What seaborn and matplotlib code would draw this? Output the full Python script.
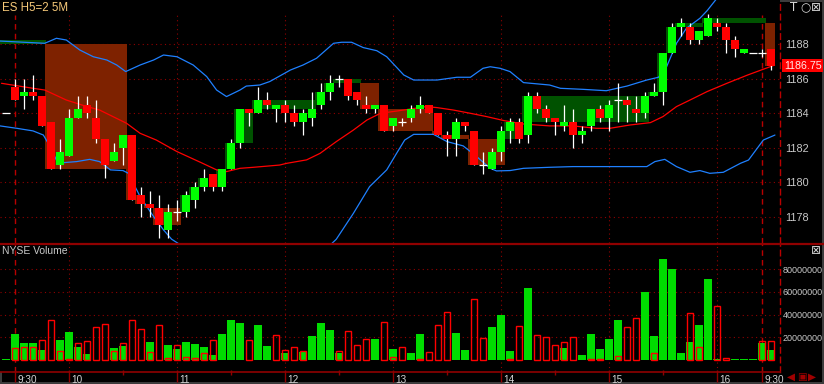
import numpy as np
import seaborn as sns
import matplotlib.pyplot as plt
from matplotlib.lines import Line2D
from matplotlib.patches import Rectangle
from matplotlib.transforms import ScaledTranslation, blended_transform_factory

# ---- 5 minute bars, index 0 = 9:30 ----
bar_idx = list(range(-1, 85))
opens = [1184.0,
         1185.5, 1185.0, 1185.25, 1185.0, 1183.5, 1181.0, 1181.5, 1183.75, 1184.5, 1183.75,
         1182.5, 1181.25, 1182.0, 1182.75, 1179.25, 1178.75, 1178.5, 1177.25, 1178.25, 1178.25,
         1179.0, 1179.75, 1180.5, 1179.75, 1180.75, 1182.25, 1184.25, 1184.0, 1184.75, 1184.25,
         1184.5, 1184.0, 1183.5, 1183.75, 1184.5, 1185.25, 1186.0, 1186.0, 1185.25, 1184.5,
         1184.25, 1184.5, 1183.25, 1183.5, 1183.75, 1184.25, 1184.5, 1184.0, 1182.75, 1182.5,
         1183.5, 1183.0, 1181.0, 1180.75, 1181.75, 1183.0, 1183.5, 1182.75, 1185.0, 1184.25,
         1183.75, 1183.25, 1183.5, 1182.75, 1183.25, 1184.25, 1183.75, 1184.75, 1184.75, 1184.25,
         1184.0, 1185.0, 1185.25, 1187.5, 1189.0, 1189.0, 1188.25, 1188.5, 1189.25, 1189.0,
         1188.25, 1187.5, 1187.5, 1187.5, 1187.75]
highs = [1184.0,
         1186.0, 1186.0, 1186.25, 1185.0, 1183.5, 1182.5, 1184.25, 1185.0, 1185.0, 1184.75,
         1182.5, 1182.25, 1182.75, 1182.75, 1179.75, 1179.5, 1179.25, 1178.75, 1179.0, 1179.5,
         1180.0, 1180.75, 1180.5, 1180.75, 1182.5, 1184.25, 1184.25, 1185.5, 1185.25, 1184.5,
         1184.75, 1184.5, 1184.25, 1185.25, 1185.75, 1186.25, 1186.25, 1186.0, 1185.25, 1185.0,
         1184.5, 1184.5, 1183.75, 1183.75, 1184.5, 1185.0, 1184.5, 1184.0, 1183.0, 1183.75,
         1183.5, 1183.0, 1181.75, 1182.0, 1183.25, 1183.75, 1183.75, 1185.25, 1185.25, 1184.5,
         1183.75, 1184.5, 1184.25, 1183.25, 1184.25, 1184.5, 1184.75, 1185.75, 1185.0, 1185.0,
         1185.25, 1185.75, 1187.5, 1189.25, 1189.5, 1189.25, 1188.75, 1189.75, 1189.5, 1189.25,
         1188.5, 1187.75, 1187.5, 1187.75, 1187.75]
lows = [1184.0,
        1184.75, 1184.25, 1184.75, 1183.25, 1180.75, 1180.75, 1181.5, 1183.75, 1183.75, 1182.25,
        1180.25, 1181.25, 1181.0, 1179.0, 1178.0, 1178.0, 1176.75, 1176.75, 1177.75, 1178.0,
        1178.5, 1179.5, 1179.5, 1179.5, 1180.75, 1182.0, 1183.25, 1184.0, 1184.25, 1183.5,
        1183.5, 1183.25, 1182.75, 1183.25, 1184.25, 1184.75, 1185.5, 1184.75, 1184.5, 1184.0,
        1184.0, 1183.0, 1183.0, 1183.25, 1183.5, 1184.0, 1184.0, 1182.75, 1181.5, 1181.5,
        1183.0, 1181.0, 1180.5, 1180.75, 1181.25, 1182.25, 1182.25, 1182.25, 1184.0, 1183.5,
        1182.75, 1183.0, 1182.0, 1182.25, 1183.0, 1183.5, 1183.0, 1183.5, 1183.5, 1183.5,
        1183.75, 1185.0, 1184.5, 1187.5, 1188.5, 1188.0, 1188.0, 1188.5, 1188.75, 1187.5,
        1187.25, 1187.5, 1187.5, 1187.25, 1186.5]
closes = [1184.0,
          1184.75, 1185.25, 1185.0, 1183.25, 1180.75, 1181.75, 1183.75, 1184.25, 1184.0, 1182.5,
          1181.0, 1181.75, 1182.75, 1179.0, 1178.75, 1178.5, 1177.5, 1178.25, 1178.25, 1179.25,
          1179.75, 1180.25, 1179.75, 1180.75, 1182.25, 1184.25, 1184.0, 1184.75, 1184.5, 1184.5,
          1184.0, 1183.5, 1184.0, 1184.25, 1185.25, 1185.75, 1186.0, 1185.0, 1184.75, 1184.25,
          1184.5, 1183.0, 1183.75, 1183.5, 1184.25, 1184.5, 1184.0, 1182.75, 1182.5, 1183.5,
          1183.25, 1181.0, 1181.0, 1181.75, 1183.0, 1183.5, 1182.5, 1185.0, 1184.25, 1183.75,
          1183.5, 1183.5, 1182.75, 1183.0, 1184.25, 1183.75, 1184.5, 1184.75, 1184.5, 1184.0,
          1185.0, 1185.25, 1187.5, 1189.0, 1189.25, 1188.25, 1188.75, 1189.5, 1189.0, 1188.25,
          1187.75, 1187.75, 1187.5, 1187.5, 1186.75]

# NYSE volume in millions: up volume (filled) and down volume (outlined)
vol_up = [1,
          22.9, 15, 15, 8.8, 0, 17.6, 24.7, 11.8, 5.3, 0,
          0, 10.6, 12.3, 0, 0, 15.9, 0, 13.2, 9.7, 15.9,
          14.1, 11.5, 4.4, 22.9, 35, 32.6, 0, 30.9, 12.3, 0,
          6.2, 0, 7.4, 21.2, 32.6, 26.5, 6.2, 0, 0, 0,
          18.5, 0, 9.7, 0, 6.2, 22.9, 0, 0, 0, 23.8,
          8.8, 0, 0, 29.1, 39.7, 7.9, 0, 63.5, 0, 0,
          0, 10.6, 0, 4.4, 22.9, 9.7, 18.5, 35.3, 0, 0,
          60, 21.2, 89, 80.3, 6.2, 15.9, 30.9, 71.4, 1, 0,
          1, 1, 1, 15, 8.8]
vol_down = [0,
            10.3, 11.2, 11.2, 17.3, 35, 7.9, 1, 14.7, 16.5, 28.8,
            31.5, 7.6, 14.7, 35, 27, 6.8, 30.6, 1.5, 12.9, 2.4,
            1.5, 5.9, 17.3, 0, 0, 0, 17.3, 0, 0, 21.8,
            8.5, 11.2, 7.6, 0, 0, 0, 7.6, 25.3, 13.2, 18.2,
            0, 33.2, 2.4, 11.2, 0, 1, 6.8, 30.6, 42, 0,
            0, 53.5, 19.1, 0, 0, 1, 29.7, 0, 22, 20,
            12.9, 15.6, 20, 0, 1, 1, 0, 3.2, 28.8, 36.8,
            0, 5.9, 0, 0, 0, 41.2, 11.2, 0, 47.3, 1.5,
            0, 0, 0, 16.5, 16.5]

# range boxes: first bar, last bar, low, high, up(1)/down(0)
box_first = [-1, 4, 13, 14, 15, 16, 19, 20, 21, 23, 24, 25, 27, 34, 35, 36, 39, 41, 47, 48,
             51, 55, 57, 71, 72, 73, 74, 77, 84]
box_last = [3, 12, 13, 14, 15, 18, 19, 20, 21, 23, 24, 26, 33, 34, 35, 38, 40, 46, 47, 50,
            54, 56, 70, 71, 72, 73, 76, 83, 84]
box_low = [1188, 1180.75, 1179, 1178.75, 1178.5, 1177.5, 1178.25, 1179, 1179.75, 1179.75,
           1180.75, 1182.25, 1184.25, 1184.5, 1185.25, 1185.75, 1184.25, 1183, 1182.75, 1182.5,
           1181, 1182.5, 1183.5, 1185, 1185.25, 1187.5, 1189, 1189.25, 1186.75]
box_high = [1188.25, 1188, 1182.75, 1179.25, 1178.75, 1178.5, 1179.25, 1179.75, 1180.25, 1180.75,
            1182.25, 1184.25, 1184.75, 1185.25, 1185.75, 1186, 1185.75, 1184.25, 1183, 1182.75,
            1182.5, 1183.5, 1185, 1185.25, 1187.5, 1189, 1189.25, 1189.5, 1189.25]
box_up = [1, 0, 0, 0, 0, 0, 1, 1, 1, 1, 1, 1, 1, 1, 1, 1, 0, 0, 0, 0, 0, 1, 1, 1, 1, 1, 1, 1, 0]

# moving average and bands
ma_x = [-1.5, 2, 3.3, 5.7, 8, 9.4, 12.4, 13.9, 15.7, 18, 20.6, 22.4, 23.5, 25, 26.5, 29.4, 30.2,
        32.4, 33.9, 35.7, 37.6, 39.1, 40.6, 43.2, 45.7, 46.9, 48.7, 50.6, 52.4, 54.3, 56.5, 59.4,
        62, 64.6, 66.1, 68.3, 70.6, 72, 73.5, 75, 76.9, 79.1, 81.4, 83.9, 84.4]
ma_y = [1185.74, 1185.45, 1185.35, 1184.77, 1184.39, 1184.19, 1183.42, 1182.84, 1182.45, 1181.78,
        1181.16, 1180.72, 1180.62, 1180.81, 1180.87, 1181.0, 1181.1, 1181.3, 1181.68, 1182.36,
        1183.03, 1183.61, 1184.0, 1184.19, 1184.39, 1184.33, 1184.19, 1184.0, 1183.81, 1183.58,
        1183.38, 1183.27, 1183.27, 1183.13, 1183.13, 1183.32, 1183.46, 1183.81, 1184.39, 1184.77,
        1185.26, 1185.74, 1186.22, 1186.7, 1186.8]
ub_x = [-1.67, 3.3, 4.6, 5.7, 7.2, 8.7, 10.2, 11.3, 12.3, 13.9, 15.4, 16.5, 18, 19.8, 21.3, 22.4,
        23.5, 25, 25.7, 27.2, 28.3, 29.4, 30.6, 32, 33.5, 35.4, 36.3, 37.4, 38.7, 40.2, 41.3, 43.2,
        44.3, 46.9, 49.1, 50.6, 52, 52.8, 53.9, 55, 56.5, 59.4, 60.6, 63.1, 65.7, 68, 70.2, 71.5,
        72.4, 73.5, 74.6, 76.1, 76.9, 78.5]
ub_y = [1188.19, 1188.06, 1188.35, 1188.25, 1187.67, 1187.28, 1187.09, 1186.8, 1186.42, 1186.8,
        1187.09, 1187.38, 1187.28, 1186.8, 1186.13, 1185.35, 1184.97, 1185.35, 1185.58, 1185.64,
        1185.84, 1186.16, 1186.51, 1186.8, 1187.19, 1188.06, 1188.12, 1188.12, 1187.81, 1187.63,
        1187.28, 1186.22, 1185.93, 1185.93, 1186.09, 1186.09, 1186.61, 1186.7, 1186.61, 1186.42,
        1185.78, 1185.64, 1185.45, 1185.39, 1185.31, 1185.58, 1185.93, 1186.09, 1186.7, 1188.06,
        1188.93, 1189.51, 1189.95, 1191.0]
lb_x = [-1.67, 0.2, 2, 3.15, 3.9, 4.6, 5.4, 6.85, 8.3, 9.4, 10.6, 12, 12.6, 13.9, 15.4, 16.5, 17.4,
        19.5, 23, 28, 32, 34.5, 35.7, 37.6, 39.4, 41.3, 42.4, 43.3, 44.3, 46.5, 48, 49.8, 51.3,
        52.8, 53.5, 55, 56.5, 59.4, 62, 67.6, 70.2, 71.1, 72.2, 73.5, 75, 76.1, 77.2, 78.7, 80.6,
        81.5, 83.15, 84.44]
lb_y = [1183.27, 1183.13, 1182.98, 1182.74, 1182.07, 1181.29, 1181.14, 1181.2, 1181.33, 1181.2,
        1180.72, 1180.68, 1180.52, 1179.17, 1178.01, 1177.24, 1176.7, 1176.0, 1175.3, 1174.8,
        1175.3, 1176.1, 1176.7, 1178.2, 1179.75, 1180.72, 1181.68, 1182.45, 1182.78, 1182.78,
        1182.36, 1182.11, 1181.49, 1180.81, 1180.66, 1180.68, 1180.81, 1180.87, 1180.91, 1180.91,
        1180.91, 1181.2, 1181.33, 1180.91, 1180.58, 1180.68, 1180.52, 1180.58, 1181.1, 1181.29,
        1182.45, 1182.74]

hour_idx = [0, 6, 18, 30, 42, 54, 66, 78, 83]
hour_labels = ['9:30', '10', '11', '12', '13', '14', '15', '16', '9:30']
half_idx = [12, 24, 36, 48, 60, 72]
session_idx = [0, 83]
price_ticks = [1178, 1180, 1182, 1184, 1186, 1188]
vol_ticks = [20, 40, 60, 80]

GREEN = '#00ff00'
VGREEN = '#00dc00'
RED = '#ff0000'
BOX_UP = '#005200'
BOX_DN = '#7e2200'
BLUE = '#1f80ff'
GRID = '#900000'
SESSION = '#b80000'
FRAME = '#900000'
TXT = '#c8c8c8'
DOT = (0, (1, 3))
DASH = (0, (4, 3))

W, H = 824, 384
sns.set_style('dark', {'axes.facecolor': 'black', 'figure.facecolor': 'black', 'axes.grid': False})
plt.rcParams['font.family'] = ['Liberation Sans', 'DejaVu Sans']

fig = plt.figure(figsize=(W / 100, H / 100), dpi=100, facecolor='black',
                 edgecolor='#3c3c3c', linewidth=1.5)
ax = fig.add_axes([0, 1 - 243 / H, 780 / W, 243 / H])
axv = fig.add_axes([0, 1 - 372 / H, 780 / W, 129 / H])
for a in (ax, axv):
    a.set_facecolor('black')
    a.set_xlim(-1.667, 85)

x = np.array(bar_idx)
o, hi, lo, c = map(np.array, (opens, highs, lows, closes))

# ---- price panel ----
for p in price_ticks:
    ax.axhline(p, color=GRID, lw=0.8, ls=DOT, zorder=0.5)
for t in hour_idx:
    if t in session_idx:
        ax.axvline(t, ymax=0.94, color=SESSION, lw=1, ls=DASH, zorder=0.6)
    else:
        ax.axvline(t, ymax=0.94, color=GRID, lw=0.8, ls=DOT, zorder=0.5)

for f, la, bl, bh, up in zip(box_first, box_last, box_low, box_high, box_up):
    ax.add_patch(Rectangle((f - 0.67, bl), la - f + 1.11, bh - bl,
                           facecolor=BOX_UP if up else BOX_DN, linewidth=0, zorder=1))

for lx, ly, col in [(ub_x, ub_y, BLUE), (lb_x, lb_y, BLUE), (ma_x, ma_y, RED)]:
    sns.lineplot(x=lx, y=ly, ax=ax, color=col, linewidth=0.9, sort=False,
                 estimator=None, zorder=2)

bw = 0.78
ax.vlines(x, lo, hi, color='white', lw=0.9, zorder=3)
up = c > o
dn = c < o
flat = c == o
ax.bar(x[up], (c - o)[up], bottom=o[up], width=bw, color=GREEN, linewidth=0, zorder=4)
ax.bar(x[dn], (o - c)[dn], bottom=c[dn], width=bw, color=RED, linewidth=0, zorder=4)
ax.hlines(c[flat], x[flat] - bw / 2, x[flat] + bw / 2, color='white', lw=0.9, zorder=4)

ax.set_ylim(1176.48, 1190.57)
ax.set_xticks([])
ax.set_yticks(price_ticks, [str(p) for p in price_ticks])
ax.yaxis.tick_right()
ax.tick_params(axis='y', length=0, pad=4, labelsize=7.8, labelcolor=TXT)
ax.set_xlabel('')
ax.set_ylabel('')
for s in ('top', 'left', 'bottom'):
    ax.spines[s].set_visible(False)
ax.spines['right'].set_color(SESSION)
ax.spines['right'].set_linestyle(DASH)
ax.spines['right'].set_linewidth(1)

tr = blended_transform_factory(ax.transAxes, ax.transData) + \
    ScaledTranslation(0.04, 0, fig.dpi_scale_trans)
ax.text(1, closes[-1], f'{closes[-1]:.2f}', transform=tr, ha='left', va='center',
        color='#ffe8e8', fontsize=7.7, clip_on=False,
        bbox=dict(boxstyle='square,pad=0.15', fc=RED, ec='none'))

# ---- volume panel ----
for v in vol_ticks:
    axv.axhline(v, color=GRID, lw=0.8, ls=DOT, zorder=0.5)
for t in hour_idx:
    if t in session_idx:
        axv.axvline(t, color=SESSION, lw=1, ls=DASH, zorder=0.6)
    else:
        axv.axvline(t, color=GRID, lw=0.8, ls=DOT, zorder=0.5)

vu = np.array(vol_up)
vd = np.array(vol_down)
m = vu > 0
axv.bar(x[m], vu[m], width=0.78, color=VGREEN, linewidth=0, zorder=2)
m = vd > 0
axv.bar(x[m], vd[m], width=0.72, facecolor='none', edgecolor=RED, linewidth=1.0, zorder=3)

axv.set_ylim(-10.6, 103.1)
axv.set_yticks(vol_ticks, [f'{v * 1000000:.0f}' for v in vol_ticks])
axv.yaxis.tick_right()
axv.tick_params(axis='y', length=0, pad=2, labelsize=6.5, labelcolor=TXT)
axv.set_xticks(hour_idx, hour_labels)
axv.tick_params(axis='x', length=0, pad=2.5, labelsize=7.2, labelcolor='#d4d4d4')
for lab in axv.get_xticklabels():
    lab.set_ha('left')
    lab.set_transform(lab.get_transform() + ScaledTranslation(0.02, 0, fig.dpi_scale_trans))
xt = axv.get_xaxis_transform()
axv.vlines(hour_idx, -0.078, 0.016, transform=xt, color=FRAME, lw=1, clip_on=False)
axv.vlines(half_idx, -0.025, 0.016, transform=xt, color=FRAME, lw=1, clip_on=False)
axv.set_xlabel('')
axv.set_ylabel('')
for s in ('top', 'left'):
    axv.spines[s].set_visible(False)
axv.spines['bottom'].set_color(FRAME)
axv.spines['bottom'].set_linewidth(1.2)
axv.spines['right'].set_color(SESSION)
axv.spines['right'].set_linestyle(DASH)
axv.spines['right'].set_linewidth(1)

# ---- frame, titles, icons ----
fig.add_artist(Line2D([0, 1], [1 - 243.5 / H] * 2, color=FRAME, lw=1.6))
fig.text(2 / W, 1 - 2 / H, 'ES H5=2 5M', color='#f5c878', fontsize=8.3, va='top', ha='left')
fig.text(2 / W, 1 - 246 / H, 'NYSE Volume', color=TXT, fontsize=7.5, va='top', ha='left')
for px, s in [(790, 'T'), (800, '\u25cb'), (811, '\u22a0')]:
    fig.text(px / W, 1 - 1 / H, s, color='#d8d8d8', fontsize=8.5, va='top', ha='left',
             family=['DejaVu Sans'])
fig.text(811 / W, 1 - 244 / H, '\u22a0', color='#d8d8d8', fontsize=8.5, va='top', ha='left',
         family=['DejaVu Sans'])
for px, s in [(787, '\u25c0'), (797, '\u25a3'), (808, '\u25b6')]:
    fig.text(px / W, 1 - 377 / H, s, color='#a00000', fontsize=7.5, va='center', ha='left',
             family=['DejaVu Sans'])

fig.savefig('out.png', dpi=100, facecolor='black', edgecolor=fig.get_edgecolor())
